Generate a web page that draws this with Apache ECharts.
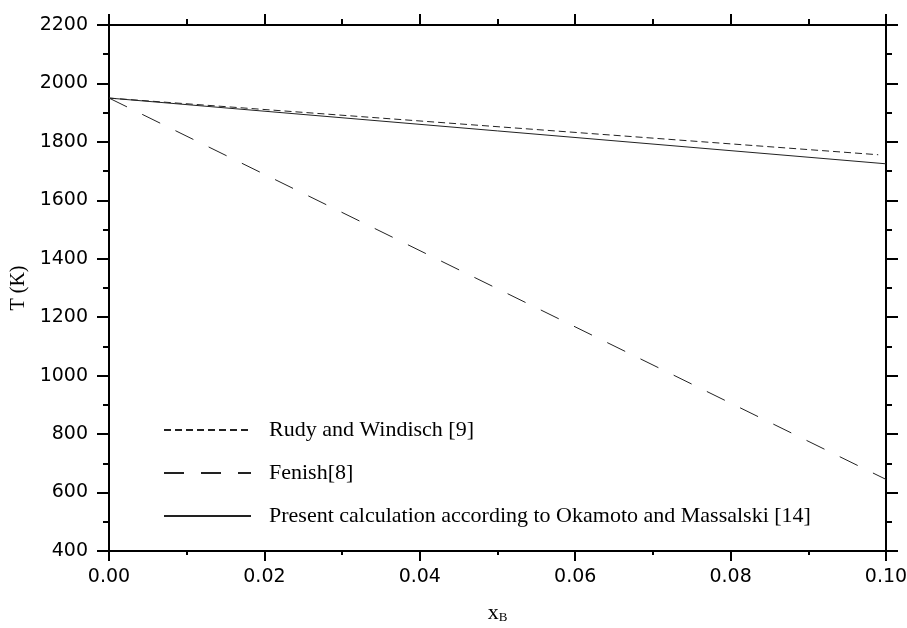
<!DOCTYPE html>
<html>
<head>
<meta charset="utf-8">
<script src="https://cdn.jsdelivr.net/npm/echarts@6/dist/echarts.min.js"></script>
<style>
  html, body { margin: 0; padding: 0; background: #fff; }
  #main { width: 907px; height: 628px; }
</style>
</head>
<body>
<div id="main"></div>
<script>
// composition x_B, temperature T in K
var seriesNames = ['Rudy and Windisch [9]', 'Fenish[8]', 'Present calculation according to Okamoto and Massalski [14]'];
var rudyX = [0, 0.099];
var rudyT = [1950, 1756];
var fenishX = [0, 0.1];
var fenishT = [1950, 645];
var presentX = [0, 0.1];
var presentT = [1950, 1725];

var xTicks = [0, 0.02, 0.04, 0.06, 0.08, 0.10];
var yTicks = [400, 600, 800, 1000, 1200, 1400, 1600, 1800, 2000, 2200];

function pairs(xs, ys) {
  return xs.map(function (x, i) { return [x, ys[i]]; });
}

var labelFont = 'DejaVu Sans';
var serif = 'Liberation Serif';
var axisLine = { show: true, onZero: false, lineStyle: { color: '#000', width: 2 } };

function xAx(pos, showLabel, len, minLen) {
  return {
    type: 'value', position: pos,
    min: xTicks[0], max: xTicks[xTicks.length - 1], interval: 0.02,
    axisLine: axisLine,
    axisTick: { show: true, inside: false, length: len, lineStyle: { color: '#000', width: 2 } },
    minorTick: { show: true, splitNumber: 2, length: minLen, lineStyle: { color: '#000', width: 2 } },
    splitLine: { show: false },
    axisLabel: {
      show: showLabel, margin: 17, color: '#000', fontFamily: labelFont, fontSize: 19,
      formatter: function (v) { return v.toFixed(2); }
    }
  };
}
function yAx(pos, showLabel) {
  return {
    type: 'value', position: pos,
    min: yTicks[0], max: yTicks[yTicks.length - 1], interval: 200,
    axisLine: axisLine,
    axisTick: { show: true, inside: false, length: 12, lineStyle: { color: '#000', width: 2 } },
    minorTick: { show: true, splitNumber: 2, length: 6, lineStyle: { color: '#000', width: 2 } },
    splitLine: { show: false },
    axisLabel: {
      show: showLabel, margin: 21, color: '#000', fontFamily: labelFont, fontSize: 19,
      formatter: function (v) { return String(v); }
    }
  };
}

var xBottom = xAx('bottom', true, 10, 4);
xBottom.name = '{a|x}{b|B}';
xBottom.nameLocation = 'middle';
xBottom.nameGap = 51;
xBottom.nameTextStyle = {
  rich: {
    a: { fontFamily: serif, fontSize: 22, color: '#000' },
    b: { fontFamily: serif, fontSize: 13, color: '#000', verticalAlign: 'bottom', padding: [9, 0, 0, 0] }
  }
};
var xTop = xAx('top', false, 11, 6);

var yLeft = yAx('left', true);
yLeft.name = 'T (K)';
yLeft.nameLocation = 'middle';
yLeft.nameGap = 72;
yLeft.nameTextStyle = { fontFamily: serif, fontSize: 20, color: '#000' };
var yRight = yAx('right', false);

function line(name, xs, ys, type, w) {
  return {
    name: name, type: 'line', xAxisIndex: 0, yAxisIndex: 0,
    data: pairs(xs, ys), symbol: 'none', animation: false,
    lineStyle: { color: '#222', width: w, type: type }
  };
}

var chart = echarts.init(document.getElementById('main'));
chart.setOption({
  backgroundColor: '#fff',
  animation: false,
  grid: { left: 109, right: 21, top: 25, bottom: 77, outerBoundsMode: 'none', containLabel: false },
  xAxis: [xBottom, xTop],
  yAxis: [yLeft, yRight],
  legend: {
    orient: 'vertical', left: 158, top: 414,
    itemWidth: 87, itemHeight: 14, itemGap: 21,
    data: seriesNames,
    itemStyle: { color: 'transparent', borderColor: 'transparent', borderWidth: 0 },
    textStyle: { fontFamily: serif, fontSize: 22, color: '#000', padding: [0, 0, 0, 13] }
  },
  series: [
    line(seriesNames[0], rudyX, rudyT, [7, 4], 1),
    line(seriesNames[1], fenishX, fenishT, [20, 17], 1),
    line(seriesNames[2], presentX, presentT, 'solid', 1)
  ]
});
</script>
</body>
</html>
